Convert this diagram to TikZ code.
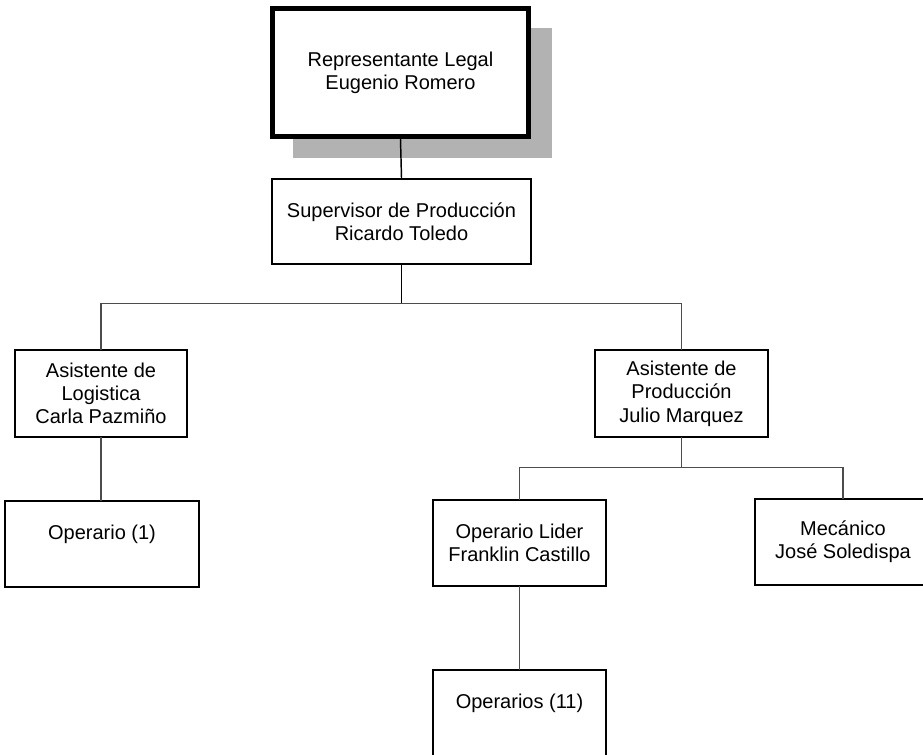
\documentclass[tikz,border=0pt]{standalone}
\usepackage{fontspec}
\setmainfont{Liberation Sans}
\usetikzlibrary{shadows}

\begin{document}
\begin{tikzpicture}[x=0.75pt,y=-0.75pt,line cap=rect,
  box/.style={draw,line width=1.6pt,fill=white,align=center,inner sep=2pt,
    font=\fontsize{15}{17.5}\selectfont},
  lnk/.style={draw=black!70,line width=0.8pt}]
\useasboundingbox (0,0) rectangle (923,755);
% cuadros
\node[box,line width=2.3pt,minimum width=194pt,minimum height=98pt,
  drop shadow={shadow xshift=16.5pt,shadow yshift=-15.5pt,fill=black!30,opacity=1}]
  (rep) at (400.5,72.5) {Representante Legal\\Eugenio Romero};
\draw[line width=1.1pt] ([shift={(4.5,4.5)}]rep.north west) rectangle ([shift={(-4.5,-4.5)}]rep.south east);
\node[box,minimum width=194pt,minimum height=64pt] (sup) at (401.5,221.5) {Supervisor de Producción\\Ricardo Toledo};
\node[box,minimum width=129pt,minimum height=65pt] (log) at (101,393.5) {Asistente de\\Logistica\\Carla Pazmiño};
\node[box,minimum width=130pt,minimum height=65pt] (prod) at (681.5,393.5) {Asistente de\\Producción\\Julio Marquez};
\node[box,minimum width=145pt,minimum height=64pt] (op1) at (102,544) {Operario (1)\\~};
\node[box,minimum width=130pt,minimum height=64pt] (lider) at (519.5,543) {Operario Lider\\Franklin Castillo};
\node[box,minimum width=132pt,minimum height=64pt] (mec) at (843,542) {Mecánico\\José Soledispa};
\node[box,minimum width=130pt,minimum height=64pt] (ops) at (519.5,713) {Operarios (11)\\~};
% lineas
\draw[lnk,draw=black,line width=1.1pt] (rep.south) -- (sup.north);
\draw[lnk,draw=black] (sup.south) -- ++(0,38) coordinate (r1);
\draw[lnk] (r1) -| (log.north);
\draw[lnk] (r1) -| (prod.north);
\draw[lnk] (log.south) -- (op1.north -| log.south);
\draw[lnk] (prod.south) -- ++(0,30) coordinate (r2);
\draw[lnk] (r2) -| (lider.north);
\draw[lnk] (r2) -| (mec.north);
\draw[lnk] (lider.south) -- (ops.north);
\end{tikzpicture}
\end{document}
